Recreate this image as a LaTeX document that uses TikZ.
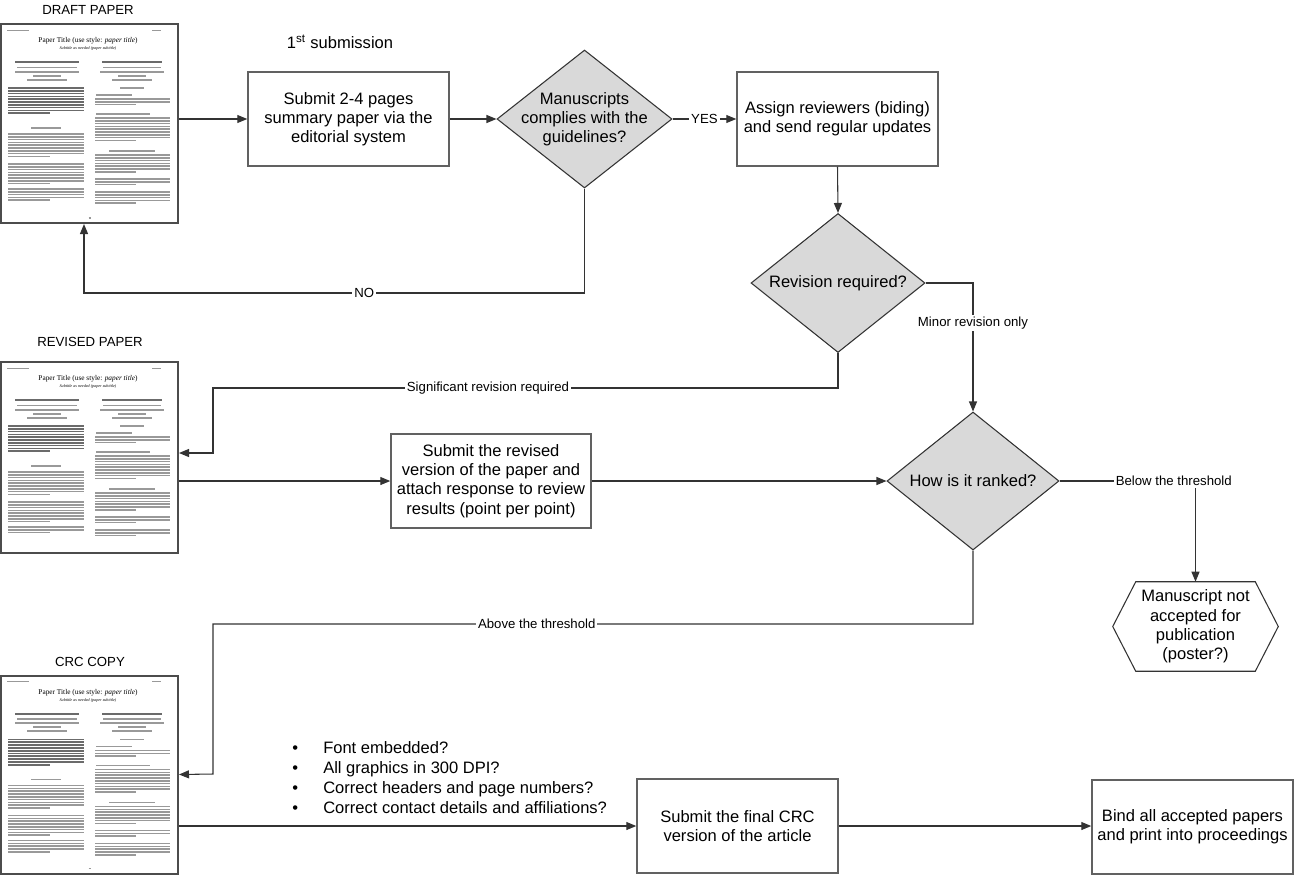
\documentclass[tikz,border=0pt]{standalone}
\usepackage{fontspec}
\setmainfont{Liberation Sans}
\newfontfamily\thumbserif{Liberation Serif}
\usetikzlibrary{shapes.geometric,arrows.meta,calc}

\tikzset{
  procbox/.style={draw=black!62, line width=1.1pt, fill=white, minimum width=150.75pt, minimum height=70.5pt,
    inner sep=0pt, align=center, font=\fontsize{12.4}{14.4}\selectfont},
  decision/.style={shape=diamond, draw=black!80, line width=0.8pt, fill=black!15, inner sep=0pt},
  dtext/.style={align=center, inner sep=0pt, font=\fontsize{12.4}{14.4}\selectfont},
  paper/.style={draw=black!70, line width=1.5pt, fill=white, minimum width=132.75pt, minimum height=149.25pt, inner sep=0pt},
  pglabel/.style={inner sep=0pt, font=\fontsize{9.9}{12}\selectfont},
  conn/.style={draw=black!80, line width=0.8pt},
  arr/.style={conn, -{Triangle[length=7.5pt,width=6pt]}},
  lab/.style={fill=white, inner sep=1.5pt, font=\fontsize{9.9}{12}\selectfont},
  txtline/.style={draw=black!40, line width=1.2pt},
  txtdark/.style={draw=black!58, line width=1.25pt},
}

% n lines of body text, last line shorter
\newcommand\tlines[5][txtline]{%
  \foreach \k in {1,...,#5}{%
    \pgfmathsetmacro\ye{#4+(\k-1)*2.8}%
    \ifnum\k=#5\relax
      \draw[#1] (#2,\ye) -- ({#2+0.55*(#3-#2)},\ye);%
    \else
      \draw[#1] (#2,\ye) -- (#3,\ye);%
    \fi}}
% one centred line
\newcommand\cenline[4][txtline]{\draw[#1] ({#2-#4/2},#3) -- ({#2+#4/2},#3);}

\newcommand\papercontent[2]{%
  \begin{scope}[shift={(#1.north west)}]
    \draw[txtline, line width=0.7pt] (7,7) -- (29,7);
    \draw[txtline, line width=0.7pt] (152,7) -- (161,7);
    \node[inner sep=0pt, font=\thumbserif\fontsize{5.5}{6}\selectfont] (#1-title) at (88,18) {Paper Title (use style: \textit{paper title})};
    \node[inner sep=0pt, font=\thumbserif\itshape\fontsize{3.1}{3.5}\selectfont] (#1-sub) at (88,25.5) {Subtitle as needed (paper subtitle)};
    % authors
    \cenline[txtdark]{47}{39.3}{64}\cenline{47}{44.3}{60}\cenline{47}{48.7}{64}\cenline{47}{52.7}{28}\cenline{47}{56.7}{40}
    \cenline[txtdark]{132}{39.3}{60}\cenline{132}{44.3}{58}\cenline{132}{48.7}{64}\cenline{132}{52.7}{28}\cenline{132}{56.7}{40}
    % left column
    \tlines[txtdark]{8}{84}{65}{10}
    \cenline{46}{105}{30}
    \tlines{8}{84}{111}{9}
    \tlines{8}{84}{141}{8}
    \tlines{8}{84}{166}{#2}
    % right column
    \cenline{132}{65}{24}
    \draw[txtline] (96,72) -- (132,72);
    \tlines{95}{170}{76}{3}
    \draw[txtline] (96,91) -- (150,91);
    \tlines{95}{170}{95}{9}
    \cenline{132}{128}{46}
    \tlines{95}{170}{132}{7}
    \tlines{95}{170}{156}{3}
    \tlines{95}{170}{169}{#2}
  \end{scope}}

\begin{document}
\begin{tikzpicture}[x=0.75pt, y=-0.75pt]
\useasboundingbox (0,0) rectangle (1294,875);

% paper sheets
\node[pglabel] (draftlab) at (88,10) {DRAFT PAPER};
\node[paper] (draftpg) at (89.5,123.5) {};
\papercontent{draftpg}{5}
\draw[txtline] ($(draftpg.south)+(-1,-6)$) -- ($(draftpg.south)+(1,-6)$);
\node[pglabel] (revlab) at (90,342) {REVISED PAPER};
\node[paper, minimum height=143.25pt] (revpg) at (89.5,457.5) {};
\papercontent{revpg}{3}
\node[pglabel] (crclab) at (90,662) {CRC COPY};
\node[paper, minimum height=148.5pt] (crcpg) at (89.5,774.5) {};
\papercontent{crcpg}{5}
\draw[txtline] ($(crcpg.south)+(-1,-6)$) -- ($(crcpg.south)+(1,-6)$);

% first row
\node[inner sep=0pt, font=\fontsize{12.4}{14.4}\selectfont] (firstsub) at (340,42) {1\textsuperscript{st} submission};
\node[procbox] (submit) at (348.5,119) {Submit 2-4 pages\\summary paper via the\\editorial system};
\node[decision, minimum width=131.25pt, minimum height=103.5pt] (comp) at (584.5,119) {};
\node[dtext] (comptext) at (comp) {Manuscripts\\complies with the\\guidelines?};
\node[procbox] (assign) at (837.5,119) {Assign reviewers (biding)\\and send regular updates};

% revision decision
\node[decision, minimum width=130.5pt, minimum height=104.25pt] (rev) at (838,283) {};
\node[dtext] (revtext) at (rev) {Revision required?};

% second row
\node[procbox, minimum width=150pt] (revised) at (491,481) {Submit the revised\\version of the paper and\\attach response to review\\results (point per point)};
\node[decision, minimum width=129pt, minimum height=103.5pt] (how) at (973,481) {};
\node[dtext] (howtext) at (how) {How is it ranked?};

% rejection hexagon
\node[minimum width=123.75pt, minimum height=66.75pt, inner sep=0pt, align=center,
      font=\fontsize{12.4}{14.5}\selectfont] (hex) at (1195.5,626.5) {Manuscript not\\accepted for\\publication\\(poster?)};
\draw[draw=black!80, line width=0.8pt] (hex.west) -- ($(hex.north west)+(23,0)$) -- ($(hex.north east)+(-23,0)$)
   -- (hex.east) -- ($(hex.south east)+(-23,0)$) -- ($(hex.south west)+(23,0)$) -- cycle;

% bottom row
\node[anchor=west, align=left, inner sep=0pt, font=\fontsize{12.4}{15}\selectfont] (checks) at (292,778)
  {\makebox[23.25pt][l]{\textbullet}Font embedded?\\
   \makebox[23.25pt][l]{\textbullet}All graphics in 300 DPI?\\
   \makebox[23.25pt][l]{\textbullet}Correct headers and page numbers?\\
   \makebox[23.25pt][l]{\textbullet}Correct contact details and affiliations?};
\node[procbox] (final) at (737.5,826) {Submit the final CRC\\version of the article};
\node[procbox] (bind) at (1192.5,827) {Bind all accepted papers\\and print into proceedings};

% helper coordinates
\coordinate (nocorner) at (84,293);
\coordinate (sigc) at (213,388);
\coordinate (sigin) at (213,453);
\coordinate (abovec) at (213,624);

% connectors
\draw[arr] (draftpg.east |- submit.west) -- (submit.west);
\draw[arr] (submit.east) -- (comp.west);
\draw[arr] (comp.east) -- node[lab] (yes) {YES} (assign.west);
\draw[arr] (comp.south) |- node[lab, pos=0.72] (no) {NO} (nocorner) -- (draftpg.south -| nocorner);
\draw[arr] (assign.south) -- (rev.north);
\draw[arr] (rev.east) -| node[lab, pos=0.655] (minor) {Minor revision only} (how.north);
\draw[arr] (rev.south) |- node[lab, pos=0.78] (sig) {Significant revision required} (sigc) -- (sigin) -- (sigin -| revpg.east);
\draw[arr] (revpg.east |- revised.west) -- (revised.west);
\draw[arr] (revised.east) -- (how.west);
\draw[arr] (how.east) -| node[lab, pos=0.42] (below) {Below the threshold} (hex.north);
\draw[arr] (how.south) |- node[lab, pos=0.787] (above) {Above the threshold} (abovec) -- (abovec |- 0,774) -- (crcpg.east);
\draw[arr] (crcpg.east |- final.west) -- (final.west);
\draw[arr] (final.east) -- (final.east -| bind.west);
\end{tikzpicture}
\end{document}
